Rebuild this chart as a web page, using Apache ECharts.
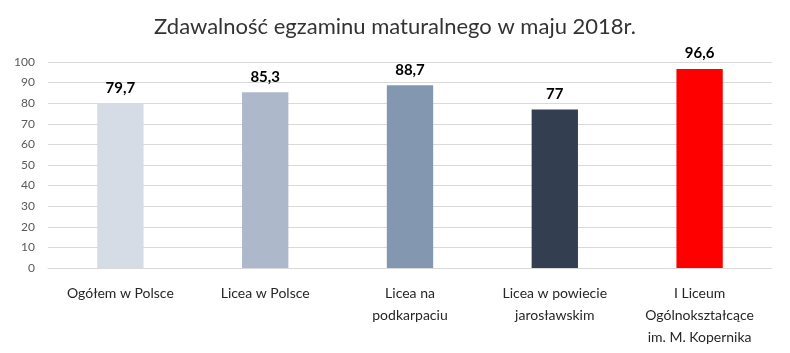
<!DOCTYPE html>
<html>
<head>
<meta charset="utf-8">
<script src="https://cdn.jsdelivr.net/npm/echarts@6/dist/echarts.min.js"></script>
<style>
	html, body { margin: 0; padding: 0; background: #fff; }
	#chart { width: 790px; height: 353px; }
</style>
</head>
<body>
<div id="chart"></div>
<script>
var categories = ['Ogółem w Polsce', 'Licea w Polsce', 'Licea na\npodkarpaciu', 'Licea w powiecie\njarosławskim', 'I Liceum\nOgólnokształcące\nim. M. Kopernika'];
var values = [79.7, 85.3, 88.7, 77, 96.6];
var barColors = ['#d6dce5', '#adb9ca', '#8497b0', '#333f50', '#ff0000'];

var fontFamily = 'Lato, "Open Sans", "Noto Sans", sans-serif';
var chart = echarts.init(document.getElementById('chart'));
var option = {
	animation: false,
	title: {
		text: 'Zdawalność egzaminu maturalnego w maju 2018r.',
		left: 'center',
		top: 11,
		textStyle: {
			color: '#333333',
			fontFamily: fontFamily,
			fontSize: 22,
			fontWeight: 'normal'
		}
	},
	grid: {
		left: 48,
		right: 18,
		top: 62,
		bottom: 85
	},
	xAxis: {
		type: 'category',
		data: categories,
		axisTick: { show: false },
		axisLine: { lineStyle: { color: '#d9d9d9', width: 1 } },
		axisLabel: {
			color: '#262626',
			fontFamily: fontFamily,
			fontSize: 14,
			lineHeight: 22,
			margin: 14,
			interval: 0
		}
	},
	yAxis: {
		type: 'value',
		min: 0,
		max: 100,
		interval: 10,
		axisLine: { show: false },
		axisTick: { show: false },
		splitLine: { lineStyle: { color: '#d9d9d9', width: 1 } },
		axisLabel: {
			color: '#595959',
			fontFamily: fontFamily,
			fontSize: 12,
			margin: 13
		}
	},
	series: [{
		type: 'bar',
		barWidth: '32%',
		data: values.map(function (v, i) {
			return { value: v, itemStyle: { color: barColors[i] } };
		}),
		label: {
			show: true,
			position: 'top',
			distance: 8,
			color: '#000000',
			fontFamily: fontFamily,
			fontSize: 15,
			fontWeight: 'bold',
			formatter: function (p) {
				return String(p.value).replace('.', ',');
			}
		}
	}]
};
chart.setOption(option);
</script>
</body>
</html>
